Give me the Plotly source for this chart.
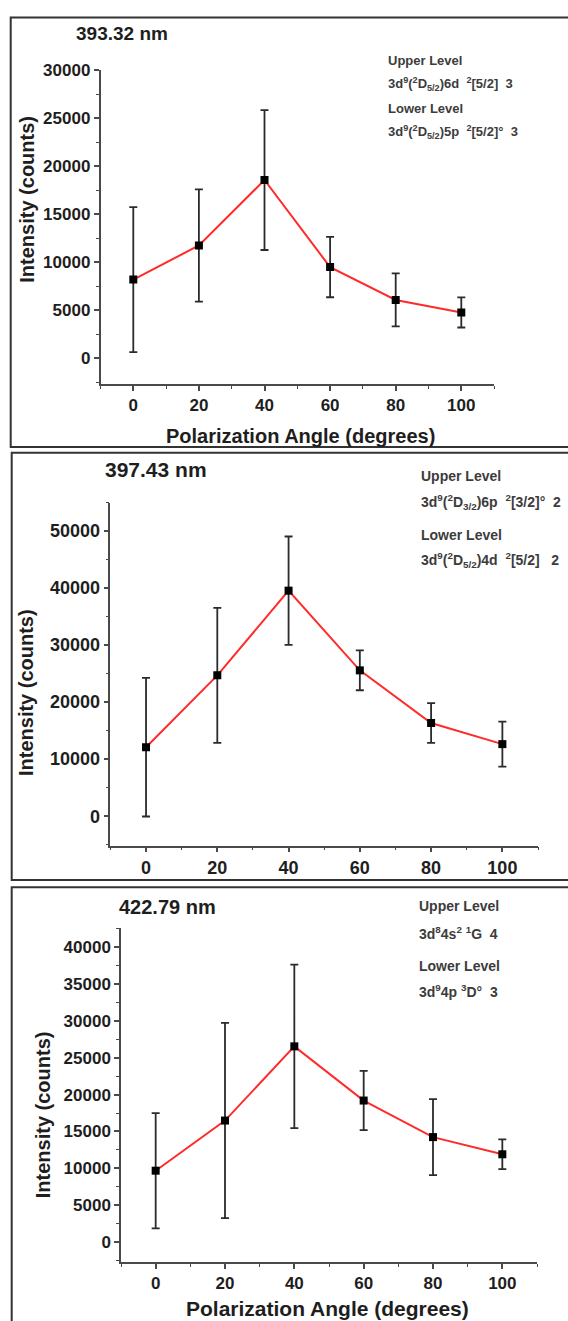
import plotly.graph_objects as go

W, H = 568, 1321

angles = [0, 20, 40, 60, 80, 100]

# Panel 1: 393.32 nm
p1_values = [8200, 11750, 18570, 9500, 6080, 4780]
p1_errors = [7550, 5850, 7290, 3140, 2760, 1570]

# Panel 2: 397.43 nm
p2_values = [12100, 24700, 39560, 25580, 16350, 12640]
p2_errors = [12150, 11850, 9500, 3490, 3490, 3960]

# Panel 3: 422.79 nm
p3_values = [9690, 16480, 26530, 19190, 14240, 11910]
p3_errors = [7805, 13225, 11075, 4015, 5155, 2020]

panel_titles = ["393.32 nm", "397.43 nm", "422.79 nm"]
x_title = "Polarization Angle (degrees)"
y_title = "Intensity (counts)"

upper_label = "Upper Level"
lower_label = "Lower Level"
p1_upper = "3d<sup>9</sup>(<sup>2</sup>D<sub>5/2</sub>)6d&nbsp;&nbsp;<sup>2</sup>[5/2]&nbsp;&nbsp;3"
p1_lower = "3d<sup>9</sup>(<sup>2</sup>D<sub>5/2</sub>)5p&nbsp;&nbsp;<sup>2</sup>[5/2]°&nbsp;&nbsp;3"
p2_upper = "3d<sup>9</sup>(<sup>2</sup>D<sub>3/2</sub>)6p&nbsp;&nbsp;<sup>2</sup>[3/2]°&nbsp;&nbsp;2"
p2_lower = "3d<sup>9</sup>(<sup>2</sup>D<sub>5/2</sub>)4d&nbsp;&nbsp;<sup>2</sup>[5/2]&nbsp;&nbsp;&nbsp;2"
p3_upper = "3d<sup>8</sup>4s<sup>2</sup>&nbsp;<sup>1</sup>G&nbsp;&nbsp;4"
p3_lower = "3d<sup>9</sup>4p&nbsp;<sup>3</sup>D°&nbsp;&nbsp;3"

FONT = "Liberation Sans, Arial, sans-serif"
AX = "#4a4a4a"
TXT = "#1e1e1e"


def px_x(v):
    return v / W


def px_y(v):
    return 1 - v / H


fig = go.Figure()

panels = [
    dict(vals=p1_values, errs=p1_errors, xd=(100.5, 494.1), yd=(61.7, 377.7),
         yr=[-2690, 30000], dt=5000, tf=17),
    dict(vals=p2_values, errs=p2_errors, xd=(110.4, 538.0), yd=(497.0, 842.3),
         yr=[-5150, 55000], dt=10000, tf=18),
    dict(vals=p3_values, errs=p3_errors, xd=(121.0, 537.0), yd=(925.0, 1261.7),
         yr=[-2690, 42600], dt=5000, tf=17),
]

layout_axes = {}
for i, p in enumerate(panels, start=1):
    sfx = "" if i == 1 else str(i)
    fig.add_trace(go.Scatter(
        x=angles, y=p["vals"],
        mode="lines+markers",
        line=dict(color="#ff2b2b", width=2),
        marker=dict(symbol="square", size=8, color="#000000"),
        error_y=dict(type="data", array=p["errs"], visible=True,
                     color="#2b2b2b", thickness=1.8, width=4),
        xaxis="x" + sfx, yaxis="y" + sfx,
        showlegend=False,
    ))
    layout_axes["xaxis" + sfx] = dict(
        domain=[px_x(p["xd"][0]), px_x(p["xd"][1])],
        anchor="y" + sfx, range=[-10, 110], tick0=0, dtick=20,
        showline=True, linecolor=AX, linewidth=1.5,
        ticks="outside", ticklen=5, tickwidth=1.5, tickcolor=AX,
        minor=dict(ticks="outside", dtick=10, ticklen=3, tickwidth=1.2, tickcolor=AX),
        showgrid=False, zeroline=False, tickformat="d",
        tickfont=dict(family=FONT, size=p["tf"], color=TXT, weight="bold"),
    )
    layout_axes["yaxis" + sfx] = dict(
        domain=[px_y(p["yd"][1]), px_y(p["yd"][0])],
        anchor="x" + sfx, range=p["yr"], tick0=0, dtick=p["dt"],
        showline=True, linecolor=AX, linewidth=1.5,
        ticks="outside", ticklen=5, tickwidth=1.5, tickcolor=AX,
        minor=dict(ticks="outside", dtick=p["dt"] / 2, ticklen=3, tickwidth=1.2, tickcolor=AX),
        showgrid=False, zeroline=False, tickformat="d",
        tickfont=dict(family=FONT, size=p["tf"], color=TXT, weight="bold"),
    )

annotations = []


def add_text(text, x, y, size, xanchor="left", color=TXT, angle=0):
    annotations.append(dict(
        text=text, x=px_x(x), y=px_y(y), xref="paper", yref="paper",
        xanchor=xanchor, yanchor="middle", showarrow=False, textangle=angle,
        font=dict(family=FONT, size=size, color=color, weight="bold"),
    ))


LVL = "#3c3c3c"
# Panel 1
add_text(panel_titles[0], 122, 25, 19, "center")
add_text(upper_label, 385.7, 51.7, 13, color=LVL)
add_text(p1_upper, 385.7, 76, 13, color=LVL)
add_text(lower_label, 385.7, 100, 13, color=LVL)
add_text(p1_lower, 385.7, 124, 13, color=LVL)
add_text(x_title, 300.5, 430, 20, "center")
add_text(y_title, 26.7, 191.3, 20, "center", angle=-90)

# Panel 2
add_text(panel_titles[1], 155.5, 464, 21, "center")
add_text(upper_label, 419, 470, 14, color=LVL)
add_text(p2_upper, 419, 496.7, 14, color=LVL)
add_text(lower_label, 419, 529.3, 14, color=LVL)
add_text(p2_lower, 419, 555, 14, color=LVL)
add_text(y_title, 26.7, 688, 20, "center", angle=-90)

# Panel 3
add_text(panel_titles[2], 167.5, 904.3, 20, "center")
add_text(upper_label, 417.3, 903.3, 14, color=LVL)
add_text(p3_upper, 417.3, 930, 14, color=LVL)
add_text(lower_label, 417.3, 963.3, 14, color=LVL)
add_text(p3_lower, 417.3, 988.3, 14, color=LVL)
add_text(y_title, 43.3, 1113.5, 20, "center", angle=-90)
add_text(x_title, 327, 1308.3, 21, "center")

shapes = []
frames = [(10.7, 8.5, 441.0), (11.7, 446.7, 877.0), (11.7, 884.3, 1340.0)]
for x0, top, bottom in frames:
    shapes.append(dict(type="rect", xref="paper", yref="paper",
                       x0=px_x(x0), x1=px_x(580), y0=px_y(bottom), y1=px_y(top),
                       line=dict(color="#333333", width=2), fillcolor="rgba(0,0,0,0)"))

fig.update_layout(
    width=W, height=H,
    margin=dict(l=0, r=0, t=0, b=0),
    paper_bgcolor="white", plot_bgcolor="white",
    annotations=annotations, shapes=shapes,
    **layout_axes,
)

fig.write_html("out.html")
